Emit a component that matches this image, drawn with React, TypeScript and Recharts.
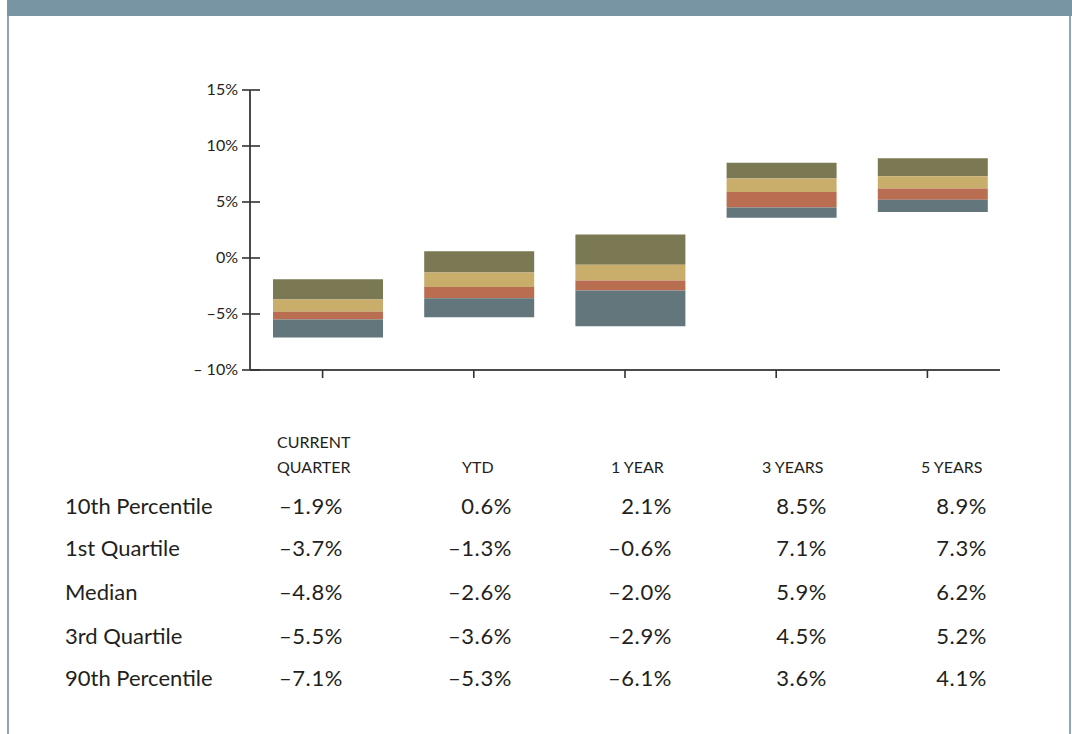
import { BarChart, Bar, XAxis, YAxis } from "recharts";

const periods = ["CURRENT QUARTER", "YTD", "1 YEAR", "3 YEARS", "5 YEARS"];
const p10 = [-1.9, 0.6, 2.1, 8.5, 8.9];
const q1 = [-3.7, -1.3, -0.6, 7.1, 7.3];
const median = [-4.8, -2.6, -2.0, 5.9, 6.2];
const q3 = [-5.5, -3.6, -2.9, 4.5, 5.2];
const p90 = [-7.1, -5.3, -6.1, 3.6, 4.1];
const yTicks = [-10, -5, 0, 5, 10, 15];

const rowLabels = ["10th Percentile", "1st Quartile", "Median", "3rd Quartile", "90th Percentile"];
const rows = [p10, q1, median, q3, p90];

const data = periods.map((name, i) => ({
  name,
  top: [q1[i], p10[i]],
  upper: [median[i], q1[i]],
  lower: [q3[i], median[i]],
  bottom: [p90[i], q3[i]],
}));

const FONT = "Lato, 'Noto Sans', sans-serif";
const INK = "#231f20";

const fmtPct = (v: number) => (v < 0 ? "\u2013" : "") + Math.abs(v).toFixed(1) + "%";
const fmtTick = (v: number) => (v < 0 ? "\u2013" + (v <= -10 ? " " : "") + Math.abs(v) : String(v)) + "%";

function YTick(props: any) {
  const { x, y, payload } = props;
  return (
    <g>
      <line x1={x - 8} x2={x + 10} y1={y} y2={y} stroke="#333" strokeWidth={1.6} />
      <text x={x - 12} y={y} dy={5} textAnchor="end" fontSize={16} fill={INK} fontFamily={FONT} xmlSpace="preserve">
        {fmtTick(payload.value)}
      </text>
    </g>
  );
}

function XTick(props: any) {
  const { x, y } = props;
  return <line x1={x - 5} x2={x - 5} y1={y} y2={y + 8} stroke="#333" strokeWidth={1.6} />;
}

const headerLeft = [277, 462, 611, 762, 921];
const valueRight = [343, 512, 672, 827, 987];
const rowY = [506, 548, 592, 636, 678];

export default function App() {
  return (
    <div
      style={{
        position: "fixed",
        left: 0,
        top: 0,
        width: 1072,
        height: 734,
        background: "#fff",
        fontFamily: FONT,
        color: INK,
        overflow: "hidden",
      }}
    >
      <div style={{ position: "absolute", left: 7, top: 0, width: 1065, height: 16, background: "#7895a4" }} />
      <div style={{ position: "absolute", left: 7, top: 16, width: 2, height: 718, background: "#8fa7b5" }} />
      <div style={{ position: "absolute", left: 1069, top: 16, width: 2, height: 718, background: "#8fa7b5" }} />

      <div style={{ position: "absolute", left: 0, top: 0 }}>
        <BarChart
          width={1072}
          height={400}
          data={data}
          margin={{ top: 90, right: 72, bottom: 10, left: 190 }}
          barSize={110}
          barGap={-110}
        >
          <YAxis
            type="number"
            domain={[-10, 15]}
            ticks={yTicks}
            width={60}
            tickSize={0}
            tickMargin={0}
            tickLine={false}
            axisLine={{ stroke: "#4a4a4a", strokeWidth: 2 }}
            tick={<YTick />}
            interval={0}
          />
          <XAxis
            dataKey="name"
            height={20}
            tickSize={0}
            tickMargin={0}
            tickLine={false}
            padding={{ left: 2, right: -8 }}
            axisLine={{ stroke: "#4a4a4a", strokeWidth: 2 }}
            tick={<XTick />}
            interval={0}
          />
          <Bar dataKey="top" fill="#7a7953" isAnimationActive={false} />
          <Bar dataKey="upper" fill="#c9ad6a" isAnimationActive={false} />
          <Bar dataKey="lower" fill="#b96d51" isAnimationActive={false} />
          <Bar dataKey="bottom" fill="#62767c" isAnimationActive={false} />
        </BarChart>
      </div>

      {periods.map((p, i) => {
        const lines = i === 0 ? ["CURRENT", "QUARTER"] : [p];
        return lines.map((t, j) => (
          <div
            key={p + j}
            style={{
              position: "absolute",
              left: headerLeft[i],
              top: 467 - 10 - (lines.length - 1 - j) * 25,
              fontSize: 16,
              lineHeight: "20px",
              whiteSpace: "nowrap",
            }}
          >
            {t}
          </div>
        ));
      })}

      {rowLabels.map((label, r) => (
        <div key={label}>
          <div
            style={{
              position: "absolute",
              left: 65,
              top: rowY[r] - 14,
              fontSize: 22,
              lineHeight: "28px",
              whiteSpace: "nowrap",
            }}
          >
            {label}
          </div>
          {rows[r].map((v, c) => (
            <div
              key={c}
              style={{
                position: "absolute",
                right: 1072 - valueRight[c],
                top: rowY[r] - 14,
                fontSize: 22,
                lineHeight: "28px",
                letterSpacing: 0.6,
                whiteSpace: "nowrap",
              }}
            >
              {fmtPct(v)}
            </div>
          ))}
        </div>
      ))}
    </div>
  );
}
